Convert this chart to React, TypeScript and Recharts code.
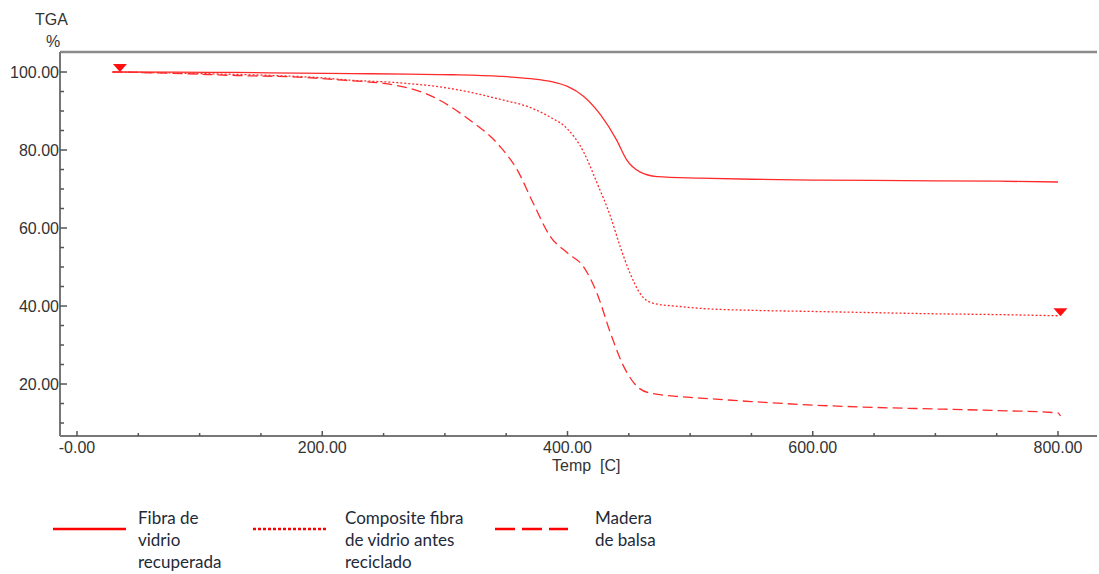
import { ComposedChart, Line, Scatter, XAxis, YAxis, ReferenceLine } from 'recharts';

// TGA curves (temperature in C, mass in %)
const fibraTemp = [29, 80, 127, 180, 225, 270, 307, 345, 370, 386, 400, 413, 427, 440, 448, 459, 473, 508, 550, 600, 650, 700, 750, 800];
const fibraTGA = [100, 99.95, 99.9, 99.7, 99.6, 99.45, 99.3, 98.9, 98.3, 97.6, 96.3, 93.8, 89.0, 82.6, 77.6, 74.4, 73.2, 72.8, 72.5, 72.3, 72.2, 72.1, 72.0, 71.8];

const compTemp = [29, 100, 150, 200, 223, 260, 304, 345, 372, 386, 400, 413, 424, 435, 443, 451, 459, 470, 494, 508, 550, 600, 650, 700, 750, 800];
const compTGA = [100, 99.6, 99.2, 98.5, 97.9, 97.3, 95.8, 93.0, 90.6, 88.4, 85.4, 79.6, 71.6, 63.0, 55.2, 48.4, 43.3, 40.7, 39.8, 39.4, 38.9, 38.6, 38.3, 38.0, 37.8, 37.5];

const maderaTemp = [29, 75, 130, 180, 217, 258, 290, 318, 345, 359, 372, 386, 400, 413, 424, 435, 446, 457, 467, 494, 508, 550, 600, 650, 700, 750, 800, 802];
const maderaTGA = [100, 99.7, 99.1, 98.7, 97.9, 96.7, 93.7, 88.2, 80.9, 74.9, 66.4, 57.8, 53.6, 50.1, 43.3, 33.1, 24.4, 19.3, 17.7, 16.7, 16.4, 15.5, 14.6, 14.0, 13.6, 13.2, 12.6, 11.8];

const markerTemp = [35, 802];
const markerTGA = [100, 37.4];

const xMajor = [0, 200, 400, 600, 800];
const xTicks = [0, 50, 100, 150, 200, 250, 300, 350, 400, 450, 500, 550, 600, 650, 700, 750, 800];
const yMajor = [20, 40, 60, 80, 100];
const yTicks = [10, 15, 20, 25, 30, 35, 40, 45, 50, 55, 60, 65, 70, 75, 80, 85, 90, 95, 100];

const legendNames = [
  ['Fibra de', 'vidrio', 'recuperada'],
  ['Composite fibra', 'de vidrio antes', 'reciclado'],
  ['Madera', 'de balsa'],
];

const X_MIN = -13.86;
const X_MAX = 831.8;
const Y_MIN = 6.67;
const Y_MAX = 105.13;

const RED = '#ff2b2b';
const AXIS_FONT = '"Liberation Sans", Arial, sans-serif';

const zip = (t: number[], v: number[]) => t.map((x, i) => ({ t: x, v: v[i] }));

const fmt = (v: number) => (v === 0 ? '-0.00' : v.toFixed(2));

const XTick = (props: any) => {
  const { x, y, payload } = props;
  const major = xMajor.includes(payload.value);
  return (
    <g>
      <line x1={x} y1={y} x2={x} y2={y - (major ? 5 : 3)} stroke="#555" strokeWidth={1.5} />
      {major && (
        <text x={x} y={y + 17} textAnchor="middle" fontSize={16} fill="#333" fontFamily={AXIS_FONT}>
          {fmt(payload.value)}
        </text>
      )}
    </g>
  );
};

const YTick = (props: any) => {
  const { x, y, payload } = props;
  const major = yMajor.includes(payload.value);
  return (
    <g>
      <line x1={x} y1={y} x2={x + (major ? 7 : 4)} y2={y} stroke="#555" strokeWidth={1.5} />
      {major && (
        <text x={x - 1} y={y + 6} textAnchor="end" fontSize={16} fill="#333" fontFamily={AXIS_FONT}>
          {fmt(payload.value)}
        </text>
      )}
    </g>
  );
};

const Triangle = (props: any) => {
  const { cx, cy } = props;
  return <polygon points={`${cx - 7},${cy - 8} ${cx + 7},${cy - 8} ${cx},${cy}`} fill="#ff1010" />;
};

const legendDash = ['', '3 2', '20 7'];
const legendLineX = [53, 253, 495];
const legendTextX = [138, 345, 595];

export default function App() {
  return (
    <div style={{ position: 'absolute', left: 0, top: 0, width: 1099, height: 574, background: '#fff', overflow: 'hidden' }}>
      <div style={{ position: 'absolute', left: 35, top: 11, fontFamily: AXIS_FONT, fontSize: 16, color: '#333' }}>TGA</div>
      <div style={{ position: 'absolute', left: 46, top: 33, fontFamily: AXIS_FONT, fontSize: 16, color: '#333' }}>%</div>
      <div style={{ position: 'absolute', left: 552, top: 457, fontFamily: AXIS_FONT, fontSize: 16, color: '#333', whiteSpace: 'pre' }}>
        {'Temp  [C]'}
      </div>
      <ComposedChart width={1099} height={480} margin={{ top: 52, right: 2, left: 0, bottom: 0 }}>
        <XAxis
          type="number"
          dataKey="t"
          domain={[X_MIN, X_MAX]}
          ticks={xTicks}
          interval={0}
          tick={XTick}
          tickLine={false}
          tickSize={0}
          tickMargin={0}
          height={44}
          axisLine={{ stroke: '#777', strokeWidth: 2 }}
          allowDataOverflow
        />
        <YAxis
          type="number"
          dataKey="v"
          domain={[Y_MIN, Y_MAX]}
          ticks={yTicks}
          interval={0}
          tick={YTick}
          tickLine={false}
          tickSize={0}
          tickMargin={0}
          width={60}
          axisLine={{ stroke: '#777', strokeWidth: 2 }}
          allowDataOverflow
        />
        <ReferenceLine y={Y_MAX} stroke="#8a8a8a" strokeWidth={2.5} />
        <Line data={zip(fibraTemp, fibraTGA)} dataKey="v" type="monotone" stroke={RED} strokeWidth={1.3} dot={false} isAnimationActive={false} />
        <Line data={zip(compTemp, compTGA)} dataKey="v" type="monotone" stroke={RED} strokeWidth={1.3} strokeDasharray="2 2" dot={false} isAnimationActive={false} />
        <Line data={zip(maderaTemp, maderaTGA)} dataKey="v" type="monotone" stroke={RED} strokeWidth={1.3} strokeDasharray="10 5" dot={false} isAnimationActive={false} />
        <Scatter data={zip(markerTemp, markerTGA)} dataKey="v" shape={Triangle} isAnimationActive={false} />
      </ComposedChart>
      {legendNames.map((lines, i) => (
        <div key={i}>
          <svg style={{ position: 'absolute', left: legendLineX[i], top: 524 }} width={75} height={10}>
            <line x1={0} y1={5} x2={73} y2={5} stroke="#ff0000" strokeWidth={2.5} strokeDasharray={legendDash[i] || undefined} />
          </svg>
          <div style={{ position: 'absolute', left: legendTextX[i], top: 507, fontFamily: 'Lato, "Open Sans", sans-serif', fontSize: 17, lineHeight: '22px', color: '#1e2a38' }}>
            {lines.map((l, j) => (
              <div key={j}>{l}</div>
            ))}
          </div>
        </div>
      ))}
    </div>
  );
}
